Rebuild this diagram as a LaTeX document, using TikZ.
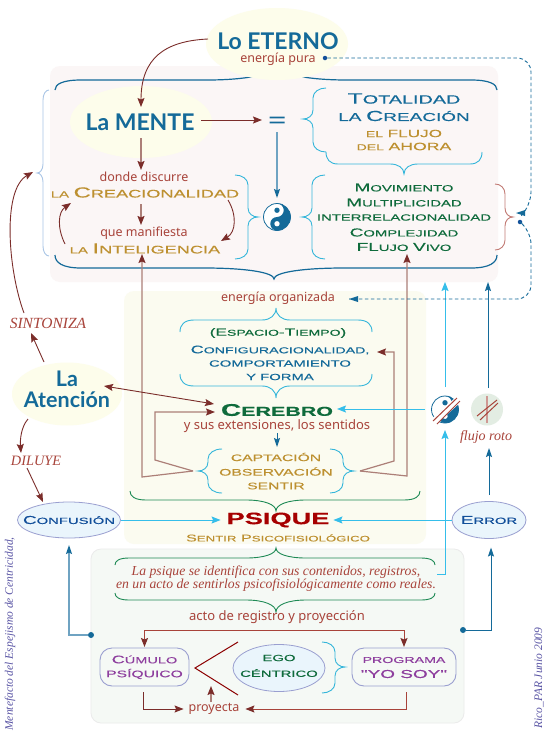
\documentclass[tikz,border=0pt]{standalone}
\usepackage{fontspec}
\usetikzlibrary{arrows.meta,shapes.geometric,calc}
\setmainfont{Noto Sans}
\newfontfamily\widef[FakeStretch=1.65,FakeBold=0.25]{Liberation Sans}
\newfontfamily\serf{Liberation Serif}
\newfontfamily\titlef{Lato}
\newcommand\fs[2]{{\fontsize{#1}{#1}\selectfont #2}}
\definecolor{cDark}{HTML}{7B2D2A}
\definecolor{cBodyR}{HTML}{AC7F78}
\definecolor{cRed}{HTML}{A8433A}
\definecolor{cBlue}{HTML}{146A99}
\definecolor{cBlueB}{HTML}{6FA3C2}
\definecolor{cCyan}{HTML}{35BEEA}
\definecolor{cBr}{HTML}{35B6DA}
\definecolor{cGold}{HTML}{BD9030}
\definecolor{cGreen}{HTML}{0F6B3C}
\definecolor{cBrG}{HTML}{1E8A55}
\definecolor{cPurple}{HTML}{8E3F9E}
\definecolor{cNavy}{HTML}{124F9A}
\definecolor{cEll}{HTML}{FDFDEB}
\definecolor{cPink}{HTML}{FBF6F6}
\definecolor{cYel}{HTML}{FBFBF0}
\definecolor{cGrn}{HTML}{F5F9F5}
\definecolor{cEl2}{HTML}{EAF5FC}
\definecolor{cLine}{HTML}{9A9FD0}
\definecolor{cRoto}{HTML}{E3EDE3}
\definecolor{cSide}{HTML}{5A55A5}
\definecolor{cBrL}{HTML}{A9C5E6}
\tikzset{
 tx/.style={inner sep=0pt,outer sep=0pt,align=center},
 wide/.style={tx,font=\widef},
 panel/.style={rounded corners=10pt},
 yell/.style={ellipse,fill=cEll,inner sep=0pt,outer sep=0pt},
 bell/.style={ellipse,fill=cEl2,draw=cLine,line width=.8pt,inner sep=0pt,outer sep=0pt},
 rbox/.style={rectangle,rounded corners=12pt,draw=cLine,line width=.9pt,inner sep=0pt,outer sep=0pt,fill=cGrn},
 brc/.style={line width=.9pt,draw=cBr},
 dtip/.style={-{Stealth[length=9pt,width=7pt,inset=1.5pt,color=cDark]}},
 darr/.style={line width=.9pt,draw=cDark,dtip},
 sarr/.style={line width=1.4pt,draw=cBodyR,dtip},
 bluearr/.style={line width=1pt,draw=cBlue,-{Stealth[length=9pt,width=6pt,inset=1.5pt,color=cBlue]}},
 bluesoft/.style={line width=1.4pt,draw=cBlueB,-{Stealth[length=9pt,width=6pt,inset=1.5pt,color=cBlue]}},
 cyarr/.style={line width=1pt,draw=cCyan,-{Stealth[length=9pt,width=7pt,inset=1.5pt,color=cCyan]}},
 dasharr/.style={line width=.9pt,draw=cBlue,dash pattern=on 3.5pt off 2.5pt,rounded corners=14pt},
 dotc/.style={circle,fill=cBlue,inner sep=0pt,minimum size=6pt},
}
% vertical brace: [style]{xout}{xmid}{xtip}{ytop}{ymid}{ybot}
\newcommand\vbrc[7][]{\draw[brc,#1] (#2,#5) .. controls ({#2+.55*(#3-#2)},#5) and (#3,{#5+4}) .. (#3,{#5+10}) -- (#3,{#6-9}) .. controls (#3,{#6-3}) and ({(#3+#4)/2},#6) .. (#4,#6) .. controls ({(#3+#4)/2},#6) and (#3,{#6+3}) .. (#3,{#6+9}) -- (#3,{#7-10}) .. controls (#3,{#7-4}) and ({#2+.55*(#3-#2)},#7) .. (#2,#7);}
% horizontal brace: [style]{xleft}{xright}{yout}{yflat}{ytip}{xtip}{end radius}{tip half width}
\newcommand\hbrc[9][]{\draw[brc,#1] (#2,#4) .. controls (#2,{#4+.6*(#5-#4)}) and ({#2+.3*#8},#5) .. ({#2+#8},#5) -- ({#7-#9},#5) .. controls ({#7-.4*#9},#5) and (#7,{#5+.4*(#6-#5)}) .. (#7,#6) .. controls (#7,{#5+.4*(#6-#5)}) and ({#7+.4*#9},#5) .. ({#7+#9},#5) -- ({#3-#8},#5) .. controls ({#3-.3*#8},#5) and (#3,{#4+.6*(#5-#4)}) .. (#3,#4);}
\newcommand\yinyang[3]{%
 \begin{scope}[shift={(#1,#2)},y=1pt]
  \fill[white] (0,0) circle[radius=#3];
  \draw[cBlue,line width=.8pt] (0,0) circle[radius=#3];
  \fill[cBlue] (0,#3) arc[start angle=90,end angle=-90,radius=#3] arc[start angle=-90,end angle=-270,radius=#3/2] arc[start angle=-90,end angle=90,radius=#3/2] -- cycle;
  \fill[cBlue] (0,#3/2) circle[radius=#3/5];
  \fill[white] (0,-#3/2) circle[radius=#3/5];
 \end{scope}}
\begin{document}
\begin{tikzpicture}[x=1pt,y=-1pt]
\useasboundingbox (0,0) rectangle (548,731);
\fill[white] (0,0) rectangle (548,731);
% panels
\fill[cPink,panel] (50,66) rectangle (498,282);
\fill[cYel,panel] (124,291) rectangle (426,544);
\draw[black!8,fill=cGrn,panel,line width=.8pt] (91,549) rectangle (464,723);
% braces
\hbrc[draw=cBlue,line width=1.2pt]{55}{497}{90}{80}{64}{277}{26}{70}
\hbrc[draw=cBlue,line width=1.2pt]{55}{497}{255}{268}{279}{274}{26}{70}
\vbrc[draw=cBrL]{49}{43}{37}{90}{173}{256}
\vbrc{235}{248}{258}{175}{217}{259}
\vbrc{326}{313}{303}{88}{119}{152}
\hbrc{326}{482}{152}{164}{174}{404}{12}{14}
\vbrc{325}{312}{302}{175}{217}{259}
\vbrc[draw=cRed!70!white]{495}{505}{513}{184}{217}{250}
\hbrc{180}{372}{332}{320}{308}{276}{14}{14}
\hbrc{180}{372}{374}{386}{398}{276}{14}{14}
\vbrc{222}{208}{198}{449}{471}{493}
\vbrc{330}{343}{354}{449}{471}{493}
\hbrc[draw=cBrG]{130}{420}{491}{500}{511}{276}{16}{30}
\hbrc[draw=cBrG]{115}{435}{565}{558}{548}{276}{14}{30}
\hbrc[draw=cBrG]{115}{435}{593}{600}{612}{276}{14}{30}
\vbrc{322}{335}{345}{642}{667}{693}
% ellipses
\node[yell,minimum width=142pt,minimum height=72pt] (eterno) at (277,44) {};
\node[yell,minimum width=142pt,minimum height=72pt] (mente) at (141,122) {};
\node[yell,minimum width=110pt,minimum height=63pt] (atencion) at (67,394) {};
\node[bell,minimum width=103pt,minimum height=36pt] (confusion) at (69,520) {};
\node[bell,minimum width=74pt,minimum height=37pt] (error) at (489,520) {};
\node[bell,minimum width=92pt,minimum height=47pt] (ego) at (279,668) {};
\node[rbox,minimum width=89pt,minimum height=38pt] (cumulo) at (144.5,667) {};
\node[rbox,minimum width=104pt,minimum height=38pt] (programa) at (404,667) {};
% texts
\node[tx,text depth=0pt,font=\titlef\bfseries\fontsize{23}{23}\selectfont,text=cBlue] (t1) at (278,41) {Lo ETERNO};
\node[tx,font=\fontsize{12.5}{13}\selectfont,text=cRed] (t2) at (278,59) {energía pura};
\node[tx,font=\titlef\bfseries\fontsize{23}{23}\selectfont,text=cBlue] (t3) at (140,122) {La MENTE};
\node[tx,font=\fontsize{12.5}{13}\selectfont,text=cRed] (t4) at (144,177) {donde discurre};
\node[wide,text=cGold] (creacion) at (145,192.5) {\fs{9}{LA} \fs{14.5}{C}\fs{11}{REACIONALIDAD}};
\node[tx,font=\fontsize{12.5}{13}\selectfont,text=cRed] (manifiesta) at (144,233) {que manifiesta};
\node[wide,text=cGold] (inteligencia) at (145,248.5) {\fs{9}{LA} \fs{14.5}{I}\fs{11}{NTELIGENCIA}};
\node[tx] (igual) at (277,120) {\tikz[x=1pt,y=1pt]{\fill[cBlue] (0,0) rectangle (15,1.8) (0,5) rectangle (15,6.8);}};
\node[wide,text=cBlue] (totalidad) at (404,98.5) {\fs{15}{T}\fs{12}{OTALIDAD}};
\node[wide,text=cBlue] (creaciontx) at (404,116) {\fs{11.5}{LA} \fs{14.5}{C}\fs{11.5}{REACIÓN}};
\node[wide,text=cGold] (flujo) at (404,133.5) {\fs{8.5}{EL} \fs{10.4}{FLUJO}};
\node[wide,text=cGold] (ahora) at (404,146.5) {\fs{8.5}{DEL} \fs{10.7}{AHORA}};
\node[wide,text=cGreen] (m1) at (404,187.5) {\fs{11.5}{M}\fs{9}{OVIMIENTO}};
\node[wide,text=cGreen] (m2) at (404,202.5) {\fs{11.5}{M}\fs{9}{ULTIPLICIDAD}};
\node[wide,text=cGreen] (m3) at (404,217.5) {\fs{9}{INTERRELACIONALIDAD}};
\node[wide,text=cGreen] (m4) at (404,232.5) {\fs{11.5}{C}\fs{9}{OMPLEJIDAD}};
\node[wide,text=cGreen] (m5) at (404,247) {\fs{11.5}{FL}\fs{9}{UJO} \fs{11.5}{V}\fs{9}{IVO}};
\node[tx,font=\fontsize{12.5}{13}\selectfont,text=cRed] (orgtx) at (278,298) {energía organizada};
\node[wide,text=cGreen] (e1) at (278,333) {\fs{10.5}{(E}\fs{8.5}{SPACIO}\fs{10.5}{-T}\fs{8.5}{IEMPO}\fs{10.5}{)}};
\node[wide,text=cBlue] (e2) at (280,350) {\fs{11}{C}\fs{8.6}{ONFIGURACIONALIDAD,}};
\node[wide,text=cBlue] (e3) at (280,363.5) {\fs{9}{COMPORTAMIENTO}};
\node[wide,text=cBlue] (e4) at (280,377) {\fs{9}{Y FORMA}};
\node[wide,font=\widef\bfseries,text=cGreen] (cerebro) at (277,410) {\fs{17}{C}\fs{13}{EREBRO}};
\node[tx,font=\fontsize{13}{13}\selectfont,text=cRed] (exts) at (277,426) {y sus extensiones, los sentidos};
\node[wide,text=cGold] (c1) at (276,457) {\fs{9.5}{CAPTACIÓN}};
\node[wide,text=cGold] (c2) at (276,471.5) {\fs{9.5}{OBSERVACIÓN}};
\node[wide,text=cGold] (c3) at (276,486) {\fs{9.5}{SENTIR}};
\node[wide,font=\widef\bfseries,text=red!65!black] (psique) at (278,520) {\fs{16.5}{PSIQUE}};
\node[wide,text=cGold] (sentir) at (278,538) {\fs{9.8}{S}\fs{8}{ENTIR} \fs{9.8}{P}\fs{8}{SICOFISIOLÓGICO}};
\node[wide,text=cNavy] (confT) at (confusion) {\fs{11.5}{C}\fs{9}{ONFUSIÓN}};
\node[wide,text=cNavy] (errT) at (error) {\fs{11.5}{E}\fs{9}{RROR}};
\node[tx,font=\serf\itshape\fontsize{15.5}{16}\selectfont,text=cRed] (sint) at (48,323) {SINTONIZA};
\node[tx,font=\serf\itshape\fontsize{14.3}{15}\selectfont,text=cRed] (diluye) at (36,461) {DILUYE};
\node[tx,font=\titlef\bfseries\fontsize{21.5}{22}\selectfont,text=cBlue] (la) at (67,379) {La};
\node[tx,font=\titlef\bfseries\fontsize{21.5}{22}\selectfont,text=cBlue] (at) at (67,400) {Atención};
\node[tx,font=\serf\itshape\fontsize{13.7}{14}\selectfont,text=cRed] (psi1) at (276,572) {La psique se identifica con sus contenidos, registros,};
\node[tx,font=\serf\itshape\fontsize{13.7}{14}\selectfont,text=cRed] (psi2) at (276,585) {en un acto de sentirlos psicofisiológicamente como reales.};
\node[tx,font=\fontsize{13}{13}\selectfont,text=cRed] (acto) at (277,617) {acto de registro y proyección};
\node[wide,text=cPurple] (cu1) at (144.5,659.5) {\fs{11}{C}\fs{8.8}{ÚMULO}};
\node[wide,text=cPurple] (cu2) at (144.5,674) {\fs{9.5}{PSÍQUICO}};
\node[wide,text=cGreen] (eg1) at (279,658) {\fs{9}{EGO}};
\node[wide,text=cGreen] (eg2) at (279,673) {\fs{9}{CÉNTRICO}};
\node[wide,text=cPurple] (pr1) at (404,660) {\fs{8.6}{PROGRAMA}};
\node[wide,text=cPurple] (pr2) at (404,674) {\fs{11.5}{"YO SOY"}};
\node[tx,font=\fontsize{12.5}{13}\selectfont,text=cRed] (proy) at (214,709) {proyecta};
\node[tx,font=\serf\itshape\fontsize{14}{14}\selectfont,text=cRed] (roto) at (486,437) {flujo roto};
\node[tx,rotate=90,font=\serf\itshape\fontsize{11.5}{12}\selectfont,text=cSide] (autor) at (10,634) {Mentefacto del Espejismo de Centricidad,};
\node[tx,rotate=90,font=\serf\itshape\fontsize{11.5}{12}\selectfont,text=cSide] (firma) at (539,678) {Rico\_PAR Junio 2009};
% yin-yang symbols
\coordinate (yy) at (277,217);
\coordinate (yb) at (445,409.5);
\coordinate (roto0) at (487,409.5);
\yinyang{277}{217}{13.5}
\yinyang{445}{409.5}{13.5}
\draw[white,line width=7pt] (434,421.5) -- (459,399);
\draw[cRed,line width=1pt] (433,421) -- (457,398);
\draw[cRed,line width=1pt] (437,424) -- (460,401);
\fill[cRoto] (roto0) circle[radius=16];
\draw[cRed!55!white,line width=2pt] (487,396) -- (487,423);
\draw[cRed,line width=1pt] (477,416) -- (497,400);
\draw[cRed,line width=1pt] (480,420) -- (498,403);
% connectors
\coordinate (eterA) at (208,39);
\draw[darr] (eterA) .. controls (165,41) and (141,58) .. ([yshift=-21pt]mente.north);
\coordinate (igualL) at (262,120);
\draw[darr,line width=1pt] (201,120) -- (igualL);
\draw[bluesoft] ([yshift=85pt]yy) -- ([yshift=19pt]yy);
\draw[sarr] (141,138) -- (141,170);
\draw[sarr] (141,204) -- (141,225);
\coordinate (a1) at (65,244); \coordinate (a2) at (71,203);
\draw[darr] (a1) .. controls (57,228) and (58,212) .. (a2);
\coordinate (a3) at (228,200); \coordinate (a4) at (221,241);
\draw[darr] (a3) .. controls (237,215) and (236,232) .. (a4);
% from the captación braces
\coordinate (capL) at (193,471); \coordinate (capR) at (360,471);
\coordinate (upL) at (142,254); \coordinate (upR) at (407,254);
\coordinate (toCer) at (215,412); \coordinate (toCfg) at (377,352);
\draw[sarr,line width=1.2pt] (capL) -- (142,477) -- (upL);
\draw[sarr,line width=1.2pt] (capL) -- (155,460) -- (155,412) -- (toCer);
\draw[sarr,line width=1.2pt] (capR) -- (407,476) -- (upR);
\draw[sarr,line width=1.2pt] (capR) -- (394,461) -- (394,352) -- (toCfg);
% sintoniza / diluye
\coordinate (bL) at (33,172); \coordinate (sA) at (24,313);
\draw[darr] (sA) .. controls (8,270) and (2,190) .. (bL);
\coordinate (atT) at (44,362); \coordinate (sB) at (31,333);
\draw[darr] (atT) -- (sB);
\draw[darr,{Stealth[length=9pt,width=7pt,inset=1.5pt,color=cDark]}-{Stealth[length=9pt,width=7pt,inset=1.5pt,color=cDark]}] (104,386) -- (214,404);
\coordinate (atB) at (28,419); \coordinate (diT) at (21,453);
\draw[darr] (atB) .. controls (21,427) and (20,440) .. (diT);
\coordinate (diB) at (27,468); \coordinate (coT) at (43,502);
\draw[darr] (diB) -- (coT);
\draw[cyarr] (confusion.east) -- ([xshift=-6pt]psique.west);
\draw[cyarr] (error.west) -- ([xshift=4pt]psique.east);
\coordinate (yyL) at (425,409);
\draw[cyarr] (yyL) -- (337,409);
\coordinate (cyTop) at (445,282);
\draw[cyarr] (445,387) -- (cyTop);
\draw[bluearr] (488,388) -- (488,282);
\draw[bluearr] (489,495) -- (489,448);
\draw[bluearr] (277,433) -- (277,447);
\coordinate (psiR) at (437,574);
\draw[cyarr] (psiR) -- (445,574) -- (445,430);
% dashed
\node[dotc,minimum size=4.5pt,fill=cNavy] (d1) at (325,58) {};
\node[dotc,minimum size=4.5pt,fill=cNavy] (d2) at (520,222) {};
\coordinate (dt1) at (516,213); \coordinate (dt2) at (349,299);
\draw[dasharr] (d1) -- (531,58) -- (531,206) -- (524,213);
\fill[cBlue] (dt1) -- ++(9,-3) -- ++(0,6) -- cycle;
\draw[dasharr] (d2) -- (531,230) -- (531,299) -- (dt2);
\fill[cBlue] (dt2) -- ++(9,-3) -- ++(0,6) -- cycle;
% bottom side connectors
\node[dotc] (d3) at (91,635) {};
\node[dotc] (d4) at (463,630) {};
\draw[bluesoft] (d3) -| ([yshift=-7pt]confusion.south);
\draw[bluearr] (d4) -| ([yshift=-9pt,xshift=2pt]error.south);
% bottom
\coordinate (actoC) at (277,630);
\draw[line width=1pt,draw=cRed,dtip] (actoC) -| ([yshift=1pt]cumulo.north);
\draw[line width=1pt,draw=cRed,dtip] (actoC) -| ([yshift=1pt]programa.north);
\coordinate (v1) at (238,642); \coordinate (v2) at (195,668); \coordinate (v3) at (238,695);
\draw[line width=1pt,draw=red!55!black] (v1) -- (v2) -- (v3);
\draw[sarr,line width=1.3pt] (211,702) -- (211,686);
\draw[line width=1pt,draw=cDark,dtip,shorten >=5pt] (143,692) |- (proy.west);
\draw[line width=1pt,draw=cRed,dtip,shorten >=6pt] (406,692) |- (proy.east);
\end{tikzpicture}
\end{document}
